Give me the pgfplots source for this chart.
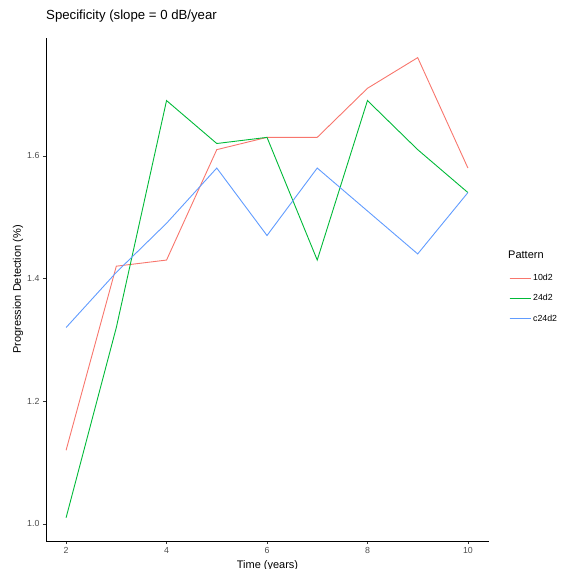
\documentclass[border=0pt]{standalone}
\usepackage{pgfplots}
\pgfplotsset{compat=1.18}
\usepackage{fontspec}
\setmainfont{Liberation Sans}
\definecolor{c1}{HTML}{F8766D}
\definecolor{c2}{HTML}{00BA38}
\definecolor{c3}{HTML}{619CFF}
\definecolor{tk}{HTML}{4D4D4D}
\definecolor{tm}{HTML}{333333}
\begin{document}
\begin{tikzpicture}[x=1pt,y=1pt]
\begin{axis}[
  name=ax,
  at={(0,0)}, anchor=south west,
  scale only axis, width=443pt, height=503pt,
  xmin=1.6, xmax=10.42, ymin=0.972, ymax=1.792,
  axis x line*=bottom, axis y line*=left,
  axis line style={black, line width=0.6pt, -},
  xtick={2,4,6,8,10}, ytick={1.0,1.2,1.4,1.6},
  yticklabel style={/pgf/number format/fixed,/pgf/number format/precision=1,/pgf/number format/fixed zerofill},
  tick align=outside, major tick length=3pt,
  tick style={tm, line width=0.5pt},
  ticklabel style={font=\fontsize{8.8}{10}\selectfont, text=tk},
  /pgf/number format/assume math mode=true,
  title={Specificity (slope = 0 dB/year},
  title style={at={(axis description cs:0,1.0239)}, anchor=base west, font=\fontsize{13.2}{15}\selectfont, inner sep=0pt},
  xlabel={Time (years)},
  xlabel style={at={(axis description cs:0.5,-0.0537)}, anchor=base, font=\fontsize{11}{13}\selectfont, inner sep=0pt},
  ylabel={Progression Detection (\%)},
  ylabel style={at={(axis description cs:-0.0632,0.5)}, anchor=center, font=\fontsize{11}{13}\selectfont, inner sep=0pt},
  legend style={at={(axis description cs:1.0,0.535)}, anchor=north west, draw=none, fill=none,
    font=\fontsize{8.8}{10}\selectfont, row sep=8.5pt, inner xsep=20pt, inner ysep=0pt},
  legend cell align=left,
  legend image code/.code={\draw[#1] (0pt,0pt) -- (17pt,0pt); \path (0pt,0pt) -- (21pt,0pt);},
  every axis plot/.append style={line width=0.9pt},
]
\addplot[c1] coordinates {(2,1.12) (3,1.42) (4,1.43) (5,1.61) (6,1.63) (7,1.63) (8,1.71) (9,1.76) (10,1.58)};
\addlegendentry{10d2}
\addplot[c2] coordinates {(2,1.01) (3,1.32) (4,1.69) (5,1.62) (6,1.63) (7,1.43) (8,1.69) (9,1.61) (10,1.54)};
\addlegendentry{24d2}
\addplot[c3] coordinates {(2,1.32) (3,1.41) (4,1.49) (5,1.58) (6,1.47) (7,1.58) (8,1.51) (9,1.44) (10,1.54)};
\addlegendentry{c24d2}
\end{axis}
\node[anchor=base west, font=\fontsize{11}{13}\selectfont, inner sep=0pt] at (462,282) {Pattern};
\pgfresetboundingbox
\path[use as bounding box] (-46,-28) rectangle (515,541);
\end{tikzpicture}
\end{document}
